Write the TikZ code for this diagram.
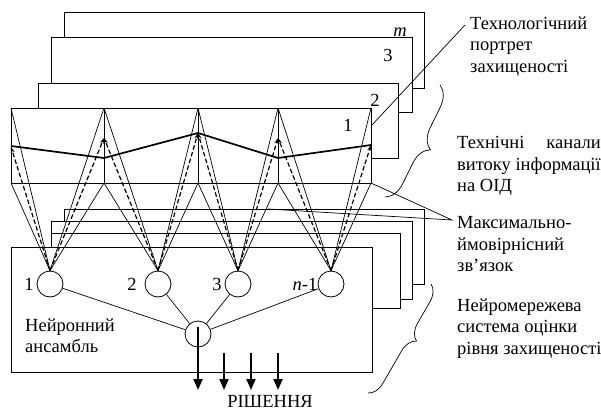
\documentclass[tikz,border=0pt]{standalone}
\usepackage{fontspec}
\setmainfont{Liberation Serif}
\usetikzlibrary{arrows.meta,decorations.pathreplacing}
\newcommand{\lblfont}{\fontsize{18.5}{21.5}\selectfont}

\begin{document}
\begin{tikzpicture}[x=1pt,y=-1pt,
  plane/.style={draw,fill=white,line width=0.8pt},
  wire/.style={line width=0.7pt},
  trace/.style={line width=1.2pt,dash pattern=on 4.5pt off 2.5pt,-{Stealth[length=6pt,width=4pt]}},
  profile/.style={line width=1.7pt,line join=round},
  neuron/.style={circle,draw,line width=0.8pt,minimum size=26pt,inner sep=0pt},
  decision/.style={line width=2pt,-{Triangle[length=11pt,width=9pt]}},
  note/.style={anchor=north west,align=left,inner sep=0pt,font=\lblfont},
  tag/.style={inner sep=0pt,font=\lblfont},
  curly/.style={decorate,decoration={brace,amplitude=#1},line width=0.7pt}]
  \useasboundingbox (0,0) rectangle (601,412);

  % portraits of protection, m layers
  \draw[plane] (64,12) rectangle (424,88);
  \draw[plane] (51,37) rectangle (412,112);
  \draw[plane] (38,83) rectangle (398,158);
  \draw[plane] (11,108) rectangle (371,183);
  \node[tag] (plm) at (400,32) {\itshape m};
  \node[tag] (pl3) at (388,55) {3};
  \node[tag] (pl2) at (375,100) {2};
  \node[tag] (pl1) at (348,125) {1};

  % neural systems, stacked
  \draw[plane] (64,209) rectangle (424,284);
  \draw[plane] (51,221) rectangle (412,299);
  \draw[plane] (51,233) rectangle (400,308);
  \draw[plane] (11,247) rectangle (372,372);

  % channel columns
  \foreach \x [count=\i from 0] in {11,104,198,278,371} {
    \coordinate (t\i) at (\x,108);
    \coordinate (b\i) at (\x,183);
  }
  \foreach \i in {1,2,3} \draw[wire] (t\i) -- (b\i);
  \foreach \x/\y [count=\i from 0] in {11/147,104/138,198/133,278/138,371/145}
    \coordinate (p\i) at (\x,\y);

  % neurons
  \node[neuron] (n1) at (50,284) {};
  \node[neuron] (n2) at (158,284) {};
  \node[neuron] (n3) at (238,284) {};
  \node[neuron] (n4) at (331,284) {};
  \node[neuron] (out) at (198,334) {};
  \node[tag] (lbl1) at (29,284) {1};
  \node[tag] (lbl2) at (132,284) {2};
  \node[tag] (lbl3) at (217,284) {3};
  \node[tag] (lbl4) at (305,284) {{\itshape n}-1};

  \foreach \k/\l/\r in {1/0/1,2/1/2,3/2/3,4/3/4} {
    \draw[wire] (t\l) -- (n\k.north) -- (t\r);
    \draw[wire] (b\l) -- (n\k.north) -- (b\r);
    \draw[trace] (n\k.north) -- (p\l);
    \draw[trace] (n\k.north) -- (p\r);
    \draw[wire] (n\k) -- (out);
  }
  \draw[profile] (11,146) -- (104,158) -- (198,133) -- (278,158) -- (371,145);

  % decisions
  \coordinate (r0) at (198,390);
  \draw[decision] ([yshift=7pt]out.center) -- (r0);
  \foreach \x [count=\i] in {224,251,278} {
    \coordinate (s\i) at (\x,353);
    \coordinate (r\i) at (\x,390);
    \draw[decision] (s\i) -- (r\i);
  }
  \node[tag,anchor=base] (dec) at (270,407.5) {РІШЕННЯ};
  \node[note] (ens) at (25,318.5) {Нейронний\\ансамбль};

  % notes on the right
  \node[note] (portrait) at (470,16.5) {Технологічний\\портрет\\захищеності};
  \node[note] (channels) at (457,136.5) {{\setbox0=\hbox{витоку інформації}\hbox to\wd0{Технічні\hfill канали}}\\витоку інформації\\на ОІД};
  \node[note] (link) at (457,216.5) {Максимально-\\ймовірнісний\\зв’язок};
  \node[note] (system) at (457,298.5) {Нейромережева\\система оцінки\\рівня захищеності};

  \coordinate (pe) at (372,125);
  \coordinate (pt) at (465,25);
  \draw[wire] (pe) -- (pt);
  \coordinate (ta) at (268,209);
  \coordinate (lk) at (452,220);
  \draw[wire] (b4) -- (lk) -- (ta);
  \draw[curly=20pt] (440,85) -- (385,197);
  \draw[curly=16pt,decoration={aspect=0.45}] (431,284) -- (368,393);
\end{tikzpicture}
\end{document}
